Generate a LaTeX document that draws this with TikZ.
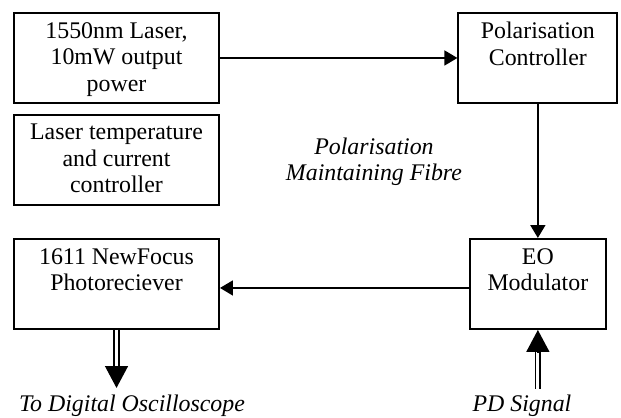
\documentclass[tikz,border=0pt]{standalone}
\usepackage{fontspec}
\setmainfont{Liberation Serif}
\usetikzlibrary{arrows.meta,positioning,calc}
\begin{document}
\begin{tikzpicture}[font=\fontsize{12}{13.3}\selectfont]
\tikzset{blk/.style={draw,line width=1pt,minimum height=1.591cm,inner sep=0pt}, lbl/.style={anchor=north,inner sep=0pt,align=center,yshift=-5pt}, note/.style={font=\fontsize{12}{13.3}\selectfont\itshape,align=center,inner sep=0pt}, fibre/.style={-{Triangle[length=6.5pt,width=7.5pt]},line width=0.9pt}, dbl/.style={double,double distance=1.4pt,line width=0.95pt}, bigtip/.style={-{Triangle[length=11pt,width=11.5pt]},line width=0.8pt}}
\useasboundingbox (0,0) rectangle (10.98,-7.373);
% Source side
\node[blk,minimum width=3.624cm] (laser) at (2.060,-1.025) {};
\node[lbl] (laserT) at (laser.north) {1550nm Laser,\\10mW output\\power};
\node[blk,minimum width=3.624cm] (tcon) at (2.060,-2.829) {};
\node[lbl] (tconT) at (tcon.north) {Laser temperature\\and current\\controller};
\node[blk,minimum width=3.624cm] (prx) at (2.060,-5.021) {};
\node[lbl] (prxT) at (prx.north) {1611 NewFocus\\Photoreciever};
% Fibre path components
\node[blk,minimum width=2.811cm] (pc) at (9.51,-1.025) {};
\node[lbl] (pcT) at (pc.north) {Polarisation\\Controller};
\node[blk,minimum width=2.404cm] (eo) at (9.51,-5.021) {};
\node[lbl] (eoT) at (eo.north) {EO\\Modulator};
\node[note] (pmf) at (6.612,-2.864) {Polarisation\\Maintaining Fibre};
% Optical links
\draw[fibre] (laser) -- (pc);
\draw[fibre] (pc) -- (eo);
\draw[fibre] ([yshift=-2pt]eo.west) -- ([yshift=-2pt]prx.east);
% Electrical in/out
\coordinate (osc) at ($(prx.south)+(0,-1.025)$);
\draw[dbl,shorten >=10.5pt] (prx.south) -- (osc);
\draw[bigtip] ($(osc)+(0,11pt)$) -- (osc);
\coordinate (pd) at ($(eo.south)+(0,-1.043)$);
\draw[dbl,shorten >=11pt] (pd) -- (eo.south);
\draw[bigtip] ($(eo.south)+(0,-11.5pt)$) -- (eo.south);
\node[note,anchor=base] (oscT) at (2.334,-7.284) {To Digital Oscilloscope};
\node[note,anchor=base] (pdT) at (9.229,-7.284) {PD Signal};
\end{tikzpicture}
\end{document}
